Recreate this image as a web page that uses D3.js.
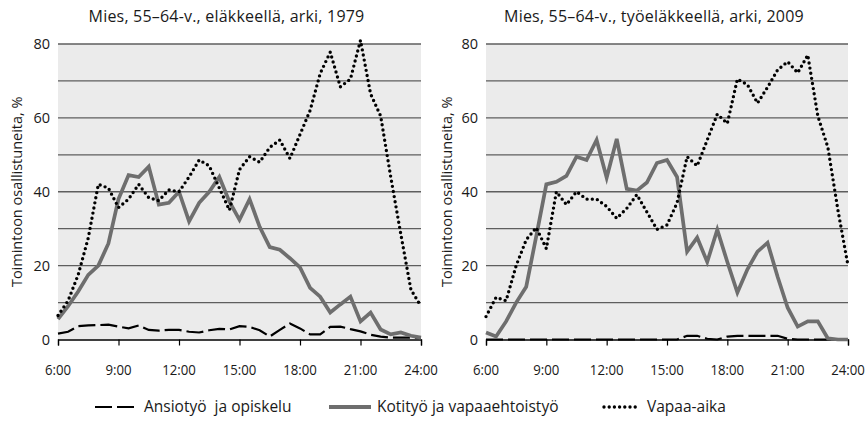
<!DOCTYPE html>
<html>
<head>
<meta charset="utf-8">
<title>Mies 55-64-v.</title>
<style>
  body { margin: 0; background: #fff; }
  text { font-family: "Open Sans", "Noto Sans", sans-serif; fill: #1a1a1a; }
  .title { font-size: 16px; letter-spacing: 0.2px; text-anchor: middle; }
  .ytick { font-size: 14.5px; text-anchor: end; }
  .xtick { font-size: 15px; text-anchor: middle; }
  .ylab { font-size: 14.5px; text-anchor: middle; }
  .legend text { font-size: 15.5px; white-space: pre; }
</style>
<script src="https://cdn.jsdelivr.net/npm/d3@7"></script>
</head>
<body>
<script>
// half-hour time points, hours
var hours = [6, 6.5, 7, 7.5, 8, 8.5, 9, 9.5, 10, 10.5, 11, 11.5, 12, 12.5, 13, 13.5, 14, 14.5,
             15, 15.5, 16, 16.5, 17, 17.5, 18, 18.5, 19, 19.5, 20, 20.5, 21, 21.5, 22, 22.5, 23, 23.5, 24];
var tickHours = [6, 9, 12, 15, 18, 21, 24];
var tickLabels = ["6:00", "9:00", "12:00", "15:00", "18:00", "21:00", "24:00"];
var yTicks = [0, 20, 40, 60, 80];
var gridValues = [10, 20, 30, 40, 50, 60, 70, 80];

var seriesNames = ["Ansiotyö  ja opiskelu", "Kotityö ja vapaaehtoistyö", "Vapaa-aika"];
var titles = ["Mies, 55–64-v., eläkkeellä, arki, 1979", "Mies, 55–64-v., työeläkkeellä, arki, 2009"];
var yTitle = "Toimintoon osallistuneita, %";

// 1979
var work1979 = [1.6, 2.1, 3.6, 3.8, 3.9, 4, 3.5, 3.0, 3.8, 2.6, 2.4, 2.6, 2.6, 2.1, 1.9, 2.5, 2.9, 2.7, 3.6,
                3.4, 2.5, 0.8, 2.6, 4.3, 3, 1.4, 1.4, 3.4, 3.5, 2.8, 2.2, 1.3, 0.8, 0.5, 0.5, 0.5, 0.5];
var home1979 = [5.5, 9, 13, 17.5, 20, 26, 38, 44.5, 44, 46.8, 36.5, 37, 40, 32, 37, 40, 44, 37.3, 32.4,
                38, 30.5, 25, 24.3, 22, 19.5, 14, 11.6, 7.3, 9.5, 11.6, 4.9, 7.3, 2.7, 1.4, 1.9, 1, 0.5];
var free1979 = [6.5, 10.5, 17.5, 27.5, 42, 41, 35.7, 38, 42, 38.4, 37.6, 40.5, 40, 44, 48.6, 47, 41, 35, 46,
                49.5, 48, 52, 54, 49, 55.5, 62, 72, 77.8, 68.4, 70.5, 81, 66.5, 60.5, 44, 28.5, 13.5, 9];
// 2009
var work2009 = [0, 0, 0, 0, 0, 0, 0, 0, 0, 0, 0, 0, 0, 0, 0, 0, 0, 0, 0, 0,
                1, 1, 0.2, 0, 0.8, 1, 1, 1, 1, 1, 0.2, 0, 0, 0, 0, 0, 0];
var home2009 = [1.9, 0.8, 4.9, 10, 14.3, 28, 42, 42.7, 44.3, 49.5, 48.6, 54, 43.8, 54.3, 40.8, 40.3, 42.5, 47.8, 48.6,
                44, 23.8, 27.6, 21, 29.7, 21, 12.7, 19, 23.8, 26.2, 17, 8.6, 3.5, 4.9, 4.9, 0.3, 0, 0];
var free2009 = [6.2, 11.4, 10.5, 20, 27, 30.3, 24.6, 40, 36.5, 40, 38, 38, 36, 32.8, 35.5, 39.2, 34.5, 29.8, 31,
                37, 49.5, 47, 54, 61, 58.5, 70.5, 69, 64, 68.3, 73, 75.2, 72.2, 77, 60.5, 52, 35, 20];

var width = 866, height = 431;
var styles = [
  { stroke: "#000", width: 2.2, dash: "17 5", cap: "butt" },
  { stroke: "#6e6e6e", width: 3.7, dash: null, cap: "butt" },
  { stroke: "#000", width: 3.4, dash: "0 5.2", cap: "round" }
];

var svg = d3.select("body").append("svg").attr("width", width).attr("height", height);

var yScale = d3.scaleLinear().domain([0, 80]).range([339.5, 44]);

function drawPanel(left, right, title, ylabX, series) {
  var xScale = d3.scaleLinear().domain([6, 24]).range([left, right]);
  var g = svg.append("g");

  g.append("rect")
    .attr("x", left).attr("y", yScale(80))
    .attr("width", right - left).attr("height", yScale(0) - yScale(80))
    .attr("fill", "#ebebeb");

  g.selectAll(".grid").data(gridValues).enter().append("line")
    .attr("x1", left).attr("x2", right)
    .attr("y1", function(d){ return yScale(d); })
    .attr("y2", function(d){ return yScale(d); })
    .attr("stroke", "#5e5e5e").attr("stroke-width", 1.3);

  // x axis
  var xAxis = d3.axisBottom(xScale).tickValues(tickHours).tickSize(6).tickFormat("");
  var ax = g.append("g").attr("transform", "translate(0," + yScale(0) + ")").call(xAxis);
  ax.select(".domain").attr("stroke", "#000").attr("stroke-width", 1.3);
  ax.selectAll(".tick line").attr("stroke", "#000").attr("stroke-width", 1.2);

  g.selectAll(".xtick").data(tickHours).enter().append("text")
    .attr("class", "xtick")
    .attr("transform", function(d){ return "translate(" + xScale(d) + ",370) scale(0.88,1)"; })
    .attr("dy", "0.35em")
    .text(function(d, i){ return tickLabels[i]; });

  g.selectAll(".ytick").data(yTicks).enter().append("text")
    .attr("class", "ytick")
    .attr("x", left - 8)
    .attr("y", function(d){ return yScale(d); })
    .attr("dy", "0.35em")
    .text(function(d){ return d; });

  // title is centred on the whole panel, a bit left of the plot centre
  g.append("text").attr("class", "title")
    .attr("x", (left + right) / 2 - 13).attr("y", 22)
    .text(title);

  g.append("text").attr("class", "ylab")
    .attr("transform", "translate(" + ylabX + "," + ((yScale(0) + yScale(80)) / 2) + ") rotate(-90)")
    .attr("dy", "0.35em")
    .text(yTitle);

  var line = d3.line()
    .x(function(d, i){ return xScale(hours[i]); })
    .y(function(d){ return yScale(d); });

  series.forEach(function(vals, k) {
    var st = styles[k];
    g.append("path")
      .attr("d", line(vals))
      .attr("fill", "none")
      .attr("stroke", st.stroke)
      .attr("stroke-width", st.width)
      .attr("stroke-linecap", st.cap)
      .attr("stroke-dasharray", st.dash);
  });
}

drawPanel(58, 421, titles[0], 17, [work1979, home1979, free1979]);
drawPanel(486, 848, titles[1], 447, [work2009, home2009, free2009]);

// legend
var legendY = 407;
var legendItems = [
  { x1: 95, x2: 135, tx: 144 },
  { x1: 329, x2: 371, tx: 377 },
  { x1: 604, x2: 637, tx: 647 }
];
var lg = svg.append("g").attr("class", "legend");
legendItems.forEach(function(it, k) {
  var st = styles[k];
  lg.append("line")
    .attr("x1", it.x1).attr("x2", it.x2)
    .attr("y1", legendY).attr("y2", legendY)
    .attr("stroke", st.stroke)
    .attr("stroke-width", k == 1 ? 4.2 : st.width)
    .attr("stroke-linecap", st.cap)
    .attr("stroke-dasharray", st.dash);
  lg.append("text")
    .attr("x", it.tx).attr("y", legendY)
    .attr("dy", "0.35em")
    .text(seriesNames[k]);
});
</script>
</body>
</html>
